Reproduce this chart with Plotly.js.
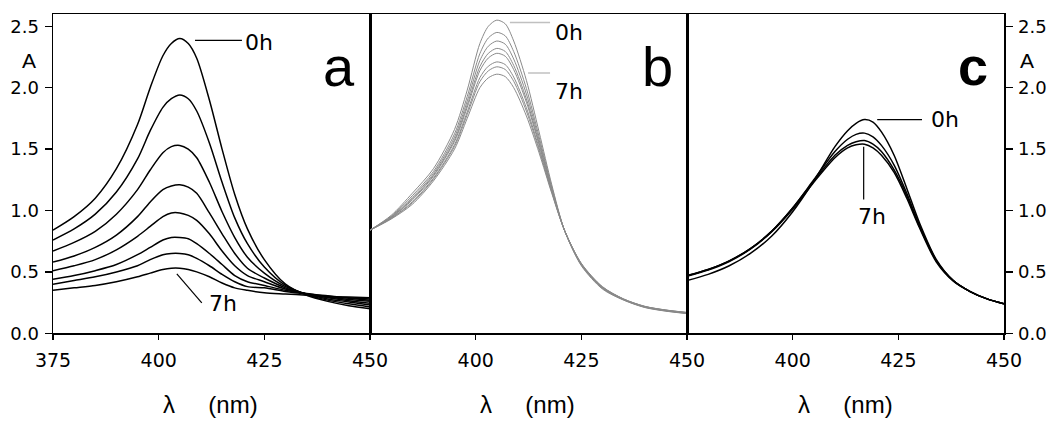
<!DOCTYPE html>
<html><head><meta charset="utf-8">
<script src="https://cdn.plot.ly/plotly-3.0.1.min.js"></script>
<style>html,body{margin:0;padding:0;background:#fff}#chart{width:1050px;height:426px}</style>
</head><body><div id="chart"></div>
<script>
// ---------- data ----------
const wlA = [375,380,385,390,395,398,401,403,405,407,409,412,415,418,421,425,430,435,440,445,450];
const a0h = [0.84,0.95,1.10,1.34,1.70,2.00,2.26,2.36,2.40,2.36,2.24,1.90,1.50,1.13,0.85,0.60,0.400,0.310,0.260,0.225,0.200];
const a1h = [0.76,0.85,0.97,1.15,1.42,1.65,1.84,1.91,1.94,1.91,1.81,1.55,1.23,0.94,0.73,0.54,0.390,0.315,0.270,0.240,0.215];
const a2h = [0.67,0.74,0.83,0.97,1.17,1.33,1.47,1.52,1.53,1.50,1.43,1.23,0.99,0.78,0.62,0.49,0.380,0.320,0.280,0.255,0.230];
const a3h = [0.58,0.63,0.70,0.80,0.95,1.07,1.17,1.20,1.21,1.19,1.14,0.98,0.81,0.65,0.53,0.45,0.370,0.320,0.290,0.265,0.245];
const a4h = [0.51,0.55,0.60,0.68,0.79,0.87,0.95,0.98,0.98,0.96,0.92,0.81,0.67,0.55,0.47,0.42,0.360,0.320,0.295,0.275,0.260];
const a5h = [0.44,0.47,0.51,0.56,0.64,0.70,0.76,0.78,0.78,0.77,0.73,0.65,0.56,0.47,0.42,0.39,0.350,0.325,0.300,0.285,0.270];
const a6h = [0.40,0.43,0.46,0.50,0.55,0.60,0.64,0.65,0.65,0.64,0.61,0.55,0.48,0.42,0.38,0.37,0.340,0.320,0.305,0.290,0.280];
const a7h = [0.35,0.37,0.39,0.42,0.46,0.49,0.52,0.53,0.53,0.52,0.50,0.46,0.41,0.37,0.35,0.33,0.320,0.310,0.300,0.295,0.290];

const wlB = [375,380,385,390,395,398,401,403,405,407,409,412,415,418,421,425,430,435,440,445,450];
const b0h = [0.84,0.960,1.140,1.340,1.660,1.980,2.360,2.500,2.550,2.520,2.380,2.060,1.640,1.210,0.84,0.550,0.360,0.270,0.210,0.180,0.160];
const b1h = [0.84,0.953,1.120,1.317,1.624,1.928,2.278,2.405,2.450,2.422,2.294,1.994,1.601,1.194,0.84,0.555,0.365,0.272,0.212,0.182,0.162];
const b2h = [0.84,0.948,1.105,1.301,1.598,1.891,2.221,2.338,2.380,2.354,2.233,1.948,1.574,1.183,0.84,0.558,0.368,0.274,0.214,0.184,0.164];
const b3h = [0.84,0.944,1.093,1.288,1.576,1.860,2.172,2.280,2.320,2.295,2.181,1.908,1.551,1.173,0.84,0.560,0.370,0.275,0.215,0.185,0.165];
const b4h = [0.84,0.942,1.085,1.279,1.562,1.839,2.139,2.242,2.280,2.256,2.147,1.882,1.536,1.167,0.84,0.562,0.372,0.276,0.216,0.186,0.166];
const b5h = [0.84,0.937,1.070,1.263,1.536,1.802,2.082,2.175,2.210,2.188,2.086,1.836,1.509,1.156,0.84,0.565,0.375,0.278,0.218,0.188,0.168];
const b6h = [0.84,0.934,1.062,1.254,1.522,1.781,2.049,2.137,2.170,2.148,2.052,1.809,1.493,1.150,0.84,0.567,0.377,0.279,0.219,0.189,0.169];
const b7h = [0.84,0.930,1.050,1.240,1.500,1.750,2.000,2.080,2.110,2.090,2.000,1.770,1.470,1.140,0.84,0.570,0.380,0.280,0.220,0.190,0.170];

const wlC = [375,380,385,390,395,400,405,410,413,415,417,419,421,424,427,430,434,438,442,446,450];
const c0h = [0.430,0.480,0.550,0.650,0.790,0.990,1.240,1.520,1.650,1.710,1.740,1.720,1.640,1.450,1.180,0.900,0.600,0.430,0.340,0.280,0.240];
const c1h = [0.470,0.520,0.590,0.690,0.830,1.020,1.250,1.480,1.580,1.620,1.630,1.600,1.530,1.370,1.140,0.880,0.590,0.430,0.340,0.280,0.240];
const c2h = [0.470,0.520,0.590,0.690,0.830,1.020,1.240,1.450,1.530,1.560,1.570,1.540,1.480,1.330,1.120,0.870,0.590,0.430,0.340,0.280,0.240];
const c3h = [0.465,0.515,0.585,0.685,0.825,1.010,1.230,1.430,1.510,1.535,1.540,1.510,1.450,1.310,1.100,0.860,0.580,0.425,0.340,0.280,0.240];

const xTicksA = [375,400,425,450];
const xTicksBC = [400,425,450];
const yTicks = [0,0.5,1.0,1.5,2.0,2.5];

// ---------- build ----------
const W = 1050, H = 426;
const PX = v => v / W, PY = v => 1 - v / H;
const FONT = 'Liberation Sans, Arial, sans-serif';
const WIDE = 'DejaVu Sans, Verdana, sans-serif';

const traces = [];
[a0h,a1h,a2h,a3h,a4h,a5h,a6h,a7h].forEach(s => traces.push({
  x: wlA, y: s, xaxis: 'x', yaxis: 'y', mode: 'lines', hoverinfo: 'skip',
  line: {color: '#000', width: 1.5, shape: 'spline', smoothing: 0.8}
}));
[b0h,b1h,b2h,b3h,b4h,b5h,b6h,b7h].forEach(s => traces.push({
  x: wlB, y: s, xaxis: 'x2', yaxis: 'y2', mode: 'lines', hoverinfo: 'skip',
  line: {color: '#8a8a8a', width: 1, shape: 'spline', smoothing: 0.8}
}));
[c0h,c1h,c2h,c3h].forEach(s => traces.push({
  x: wlC, y: s, xaxis: 'x3', yaxis: 'y3', mode: 'lines', hoverinfo: 'skip',
  line: {color: '#000', width: 1.5, shape: 'spline', smoothing: 0.8}
}));

const yDom = [PY(333.3), PY(14)];
function xax(dom, ticks, anchor) {
  return {domain: dom, range: [375, 450], tickvals: ticks, ticktext: ticks.map(String),
    ticks: 'outside', ticklen: 5, tickwidth: 1.5, tickcolor: '#000', ticklabelstandoff: 4,
    showline: true, mirror: true, linewidth: 1.5, linecolor: '#000',
    showgrid: false, zeroline: false, anchor: anchor, fixedrange: true,
    tickfont: {family: WIDE, size: 19, color: '#000'}};
}
function yax(anchor, side, labels) {
  return {domain: yDom, range: [0, 2.6], tickvals: yTicks, tickformat: '.1f',
    ticks: labels ? 'outside' : '', ticklen: 7, tickwidth: 1.5, tickcolor: '#000',
    ticklabelstandoff: 2,
    showticklabels: labels, side: side,
    showline: true, mirror: true, linewidth: 1.5, linecolor: '#000',
    showgrid: false, zeroline: false, anchor: anchor, fixedrange: true,
    tickfont: {family: WIDE, size: 18, color: '#000'}};
}

const ann = [];
function txt(x, y, t, size, fam) {
  ann.push({x: PX(x), y: PY(y), xref: 'paper', yref: 'paper', text: t,
    showarrow: false, xanchor: 'center', yanchor: 'middle',
    font: {family: fam || FONT, size: size, color: '#000'}});
}
function dtxt(xr, yr, x, y, t, anchor) {
  ann.push({x: x, y: y, xref: xr, yref: yr, text: t, showarrow: false,
    xanchor: anchor, yanchor: 'middle', font: {family: WIDE, size: 22, color: '#000'}});
}
// panel letters
txt(339, 66, 'a', 56);
txt(657, 67, 'b', 56);
txt(973, 66, '<b>c</b>', 54);
// A labels
txt(29, 61, 'A', 21);
txt(1027, 61, 'A', 21);
// axis titles
const gap = '\u00a0\u00a0\u00a0\u00a0\u00a0';
txt(210, 404, 'λ' + gap + '(nm)', 24);
txt(527, 404, 'λ' + gap + '(nm)', 24);
txt(845, 404, 'λ' + gap + '(nm)', 24);
// time labels
dtxt('x', 'y', 420.0, 2.37, '0h', 'left');
dtxt('x', 'y', 411.5, 0.24, '7h', 'left');
dtxt('x2', 'y2', 418.2, 2.45, '0h', 'left');
dtxt('x2', 'y2', 418.2, 1.97, '7h', 'left');
dtxt('x3', 'y3', 432.3, 1.74, '0h', 'left');
dtxt('x3', 'y3', 418.8, 0.955, '7h', 'center');

const shapes = [
  {type: 'line', xref: 'x', yref: 'y', x0: 408.6, x1: 419.7, y0: 2.385, y1: 2.385, line: {color: '#000', width: 1.2}},
  {type: 'line', xref: 'x', yref: 'y', x0: 404.3, x1: 410.2, y0: 0.483, y1: 0.247, line: {color: '#000', width: 1.2}},
  {type: 'line', xref: 'x2', yref: 'y2', x0: 408.1, x1: 417.6, y0: 2.53, y1: 2.53, line: {color: '#c0c0c0', width: 1.5}},
  {type: 'line', xref: 'x2', yref: 'y2', x0: 412.4, x1: 417.6, y0: 2.12, y1: 2.12, line: {color: '#c0c0c0', width: 1.5}},
  {type: 'line', xref: 'x3', yref: 'y3', x0: 420.0, x1: 430.6, y0: 1.74, y1: 1.74, line: {color: '#000', width: 1.2}},
  {type: 'line', xref: 'x3', yref: 'y3', x0: 416.8, x1: 416.8, y0: 1.52, y1: 1.09, line: {color: '#000', width: 1.2}}
];

const layout = {
  width: W, height: H, margin: {l: 0, r: 0, t: 0, b: 0},
  paper_bgcolor: '#fff', plot_bgcolor: 'rgba(0,0,0,0)', showlegend: false,
  xaxis: xax([PX(53), PX(370)], xTicksA, 'y'),
  yaxis: yax('x', 'left', true),
  xaxis2: xax([PX(370), PX(687)], xTicksBC, 'y2'),
  yaxis2: yax('x2', 'left', false),
  xaxis3: xax([PX(687), PX(1004)], xTicksBC, 'y3'),
  yaxis3: yax('x3', 'right', true),
  annotations: ann, shapes: shapes
};
Plotly.newPlot('chart', traces, layout, {staticPlot: true, displayModeBar: false});
</script></body></html>
